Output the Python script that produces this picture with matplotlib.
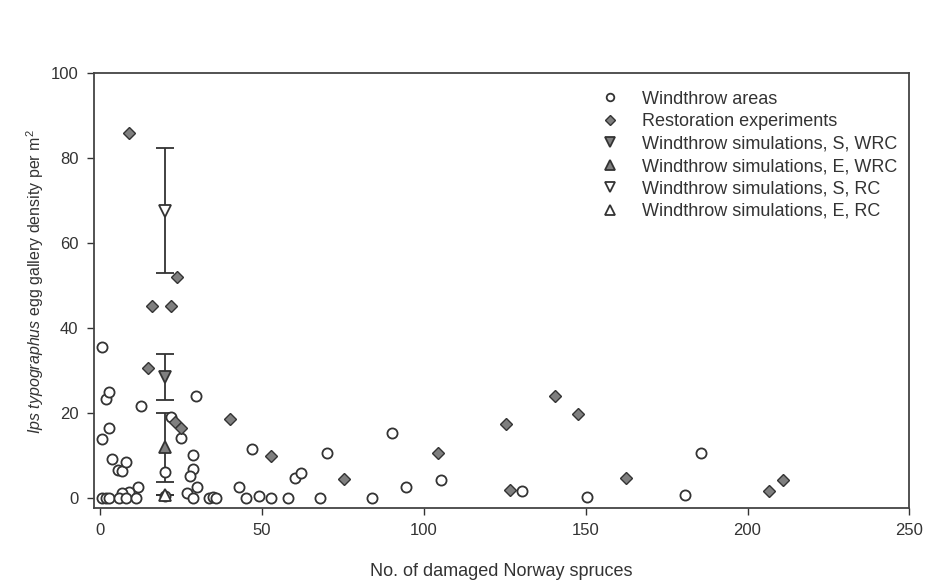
import matplotlib.pyplot as plt
import numpy as np

plt.rcParams['font.family'] = ['Liberation Sans', 'DejaVu Sans']
plt.rcParams['mathtext.fontset'] = 'custom'
plt.rcParams['mathtext.rm'] = 'Liberation Sans'
plt.rcParams['mathtext.it'] = 'Liberation Sans:italic'

# windthrow areas
wa_x = [0.7, 1.8, 2.9, 0.7, 2.9, 3.7, 5.5, 6.9, 8.0, 12.7, 11.8, 9.0, 6.9,
        0.7, 1.8, 2.9, 5.9, 8.0, 11.1, 20.1, 20.0, 22.1, 25.0, 29.8, 28.9,
        28.9, 27.9, 30.0, 26.9, 28.9, 33.8, 34.8, 36.0, 43.0, 45.1, 47.0,
        49.1, 52.9, 58.1, 60.2, 62.0, 68.0, 70.0, 84.1, 90.1, 94.4, 105.2,
        130.4, 150.5, 180.6, 185.6]
wa_y = [35.6, 23.2, 25.0, 14.0, 16.6, 9.2, 6.6, 6.4, 8.5, 21.7, 2.7, 1.5, 1.1,
        0, 0, 0, 0, 0, 0, 6.2, 0.5, 19.1, 14.1, 24.1, 10.2,
        6.9, 5.2, 2.5, 1.1, 0, 0, 0.2, 0, 2.7, 0, 11.6,
        0.5, 0, 0, 4.8, 5.8, 0, 10.7, 0, 15.4, 2.5, 4.2,
        1.7, 0.2, 0.6, 10.7]

# restoration experiments
re_x = [9.0, 23.9, 16.0, 22.1, 14.8, 23.2, 25.0, 40.1, 52.9, 75.3, 104.3,
        125.3, 126.5, 140.4, 147.5, 162.5, 206.7, 210.8]
re_y = [86.0, 52.0, 45.3, 45.3, 30.7, 17.9, 16.4, 18.5, 9.8, 4.4, 10.7,
        17.5, 2.0, 24.1, 19.7, 4.8, 1.6, 4.3]

# windthrow simulations (mean, lower, upper)
sim_x = 20
s_wrc = [28.4, 23.1, 34.0]
e_wrc = [12.1, 3.8, 19.9]
s_rc = [67.6, 53.0, 82.4]
e_rc = [0.7, 0.7, 0.7]

dark = '#333333'
gray = '#7f7f7f'

fig = plt.figure(figsize=(9.28, 5.81), dpi=100)
ax = fig.add_axes([0.101, 0.126, 0.879, 0.748])

def sim(vals, marker, fc, label):
    m, lo, hi = vals
    ax.errorbar([sim_x], [m], yerr=[[m - lo], [hi - m]], fmt='none',
                ecolor=dark, elinewidth=1.3, capsize=6.5, capthick=1.3, zorder=2)
    ax.plot([sim_x], [m], ls='none', marker=marker, ms=9, mfc=fc, mec=dark,
            mew=1.3, label=label, zorder=4)

ax.plot(wa_x, wa_y, ls='none', marker='o', ms=7.3, mfc='white', mec=dark,
        mew=1.3, label='Windthrow areas', zorder=3)
ax.plot(re_x, re_y, ls='none', marker='D', ms=6.3, mfc=gray, mec=dark,
        mew=1.0, label='Restoration experiments', zorder=3)
sim(s_wrc, 'v', gray, 'Windthrow simulations, S, WRC')
sim(e_wrc, '^', gray, 'Windthrow simulations, E, WRC')
sim(s_rc, 'v', 'white', 'Windthrow simulations, S, RC')
sim(e_rc, '^', 'white', 'Windthrow simulations, E, RC')

ax.set_xlim(-1.9, 250)
ax.set_ylim(-2.3, 100)
ax.set_xticks([0, 50, 100, 150, 200, 250])
ax.set_yticks([0, 20, 40, 60, 80, 100])
ax.tick_params(direction='out', length=5, width=1, color=dark, labelcolor=dark,
               labelsize=12, pad=6)
for s in ax.spines.values():
    s.set_color('#444444')
    s.set_linewidth(1.3)

ax.set_xlabel('No. of damaged Norway spruces', fontsize=13, color=dark, labelpad=18)
ax.set_ylabel(r'$\it{Ips\ typographus}$ egg gallery density per m$^2$',
              fontsize=11.5, color=dark, labelpad=10)
ax.yaxis.set_label_coords(-0.058, 0.52)

leg = ax.legend(loc='upper right', bbox_to_anchor=(1.005, 0.997), frameon=False,
                fontsize=13, labelspacing=0.3, handletextpad=0.75,
                markerscale=0.75, labelcolor=dark)

fig.savefig('out.png', dpi=100, facecolor='white')
